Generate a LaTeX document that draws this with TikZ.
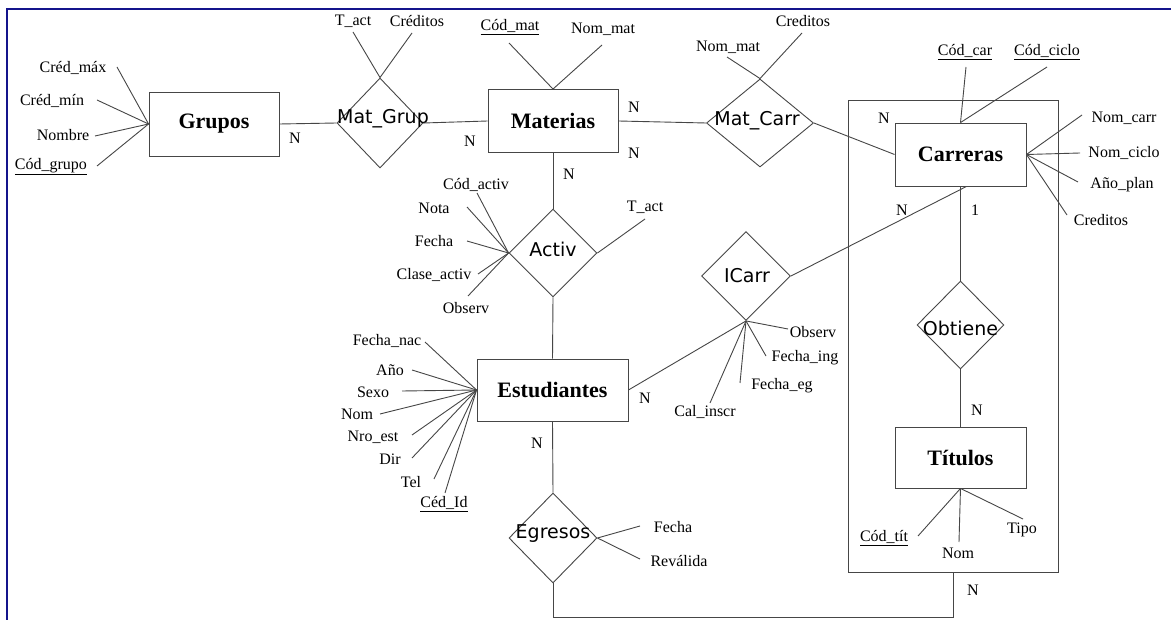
\documentclass[tikz,border=0pt]{standalone}
\usepackage{fontspec}
\setmainfont{Liberation Serif}
\newfontfamily\relfont{DejaVu Sans}
\usetikzlibrary{shapes.geometric}
\definecolor{framecol}{RGB}{20,20,140}
\definecolor{ink}{RGB}{70,70,70}
\begin{document}
\begin{tikzpicture}[x=1pt,y=-1pt,
  ent/.style={draw=ink, line width=0.9pt, inner sep=0pt, font=\bfseries\fontsize{22}{25}\selectfont},
  rel/.style={diamond, draw=ink, line width=0.9pt, inner sep=0pt},
  rtext/.style={font=\relfont\fontsize{19}{22}\selectfont, inner sep=0pt},
  att/.style={font=\fontsize{16}{18}\selectfont, inner sep=0pt},
  conn/.style={draw=ink, line width=0.9pt},
  frame/.style={draw=framecol, line width=2.5pt}]
\useasboundingbox (0,0) rectangle (1171,620);
\fill[white] (0,0) rectangle (1171,620);
\draw[frame] (7,620) -- (7,9) -- (1171,9);

% aggregation box
\node[draw=ink, line width=0.9pt, minimum width=210pt, minimum height=472pt, inner sep=0pt] (agg) at (953,336) {};

% ---------- Grupos
\node[ent, minimum width=130pt, minimum height=64pt] (gr) at (214,124) {Grupos};
\node[att] (gr1) at (73,68) {Créd\_máx};
\node[att] (gr2) at (52,101) {Créd\_mín};
\node[att] (gr3) at (63,135) {Nombre};
\node[att] (gr4) at (51,167) {\underline{Cód\_grupo}};
\coordinate (gr1s) at (117,67);
\coordinate (gr2s) at (97,100);
\coordinate (gr3s) at (95,136);
\coordinate (gr4s) at (97,166);
\foreach \c in {gr1s,gr2s,gr3s,gr4s} \draw[conn] (\c) -- (gr.west);

% ---------- Mat_Grup
\node[rel, minimum width=86pt, minimum height=90pt] (mg) at (380,123) {};
\node[rtext] (mgt) at (383,119) {Mat\_Grup};
\node[att] (mg1) at (353,21) {T\_act};
\node[att] (mg2) at (417,21) {Créditos};
\coordinate (mg1s) at (353,32);
\coordinate (mg2s) at (412,33);
\draw[conn] (mg1s) -- (mg.north);
\draw[conn] (mg2s) -- (mg.north);
\draw[conn] (gr.east) -- (mg.west);
\node[att] (n1) at (295,138) {N};
\node[att] (n2) at (470,141) {N};

% ---------- Materias
\node[ent, minimum width=130pt, minimum height=63pt] (ma) at (553,121) {Materias};
\draw[conn] (mg.east) -- (ma.west);
\node[att] (ma1) at (510,27) {\underline{Cód\_mat}};
\node[att] (ma2) at (603,29) {Nom\_mat};
\coordinate (ma1s) at (509,43);
\coordinate (ma2s) at (602,45);
\draw[conn] (ma1s) -- (ma.north);
\draw[conn] (ma2s) -- (ma.north);
\node[att] (n3) at (634,107) {N};
\node[att] (n4) at (634,153) {N};
\node[att] (n5) at (569,174) {N};

% ---------- Mat_Carr
\node[rel, minimum width=107pt, minimum height=88pt] (mc) at (760,123) {};
\node[rtext] (mct) at (757,121) {Mat\_Carr};
\draw[conn] (ma.east) -- (mc.west);
\node[att] (mc1) at (728,47) {Nom\_mat};
\node[att] (mc2) at (803,21) {Creditos};
\coordinate (mc1s) at (727,57);
\coordinate (mc2s) at (802,33);
\draw[conn] (mc1s) -- (mc.north);
\draw[conn] (mc2s) -- (mc.north);

% ---------- Carreras
\node[ent, minimum width=131pt, minimum height=63pt] (ca) at (960.5,154.5) {Carreras};
\draw[conn] (mc.east) -- (ca.west);
\node[att] (ca1) at (965,52) {\underline{Cód\_car}};
\node[att] (ca2) at (1047,52) {\underline{Cód\_ciclo}};
\coordinate (ca1s) at (966,67);
\coordinate (ca2s) at (1047,67);
\draw[conn] (ca1s) -- (ca.north);
\draw[conn] (ca2s) -- (ca.north);
\node[att] (ca3) at (1124,118) {Nom\_carr};
\node[att] (ca4) at (1124,153) {Nom\_ciclo};
\node[att] (ca5) at (1122,185) {Año\_plan};
\node[att] (ca6) at (1101,220) {Creditos};
\coordinate (ca3s) at (1082,115);
\coordinate (ca4s) at (1080,153);
\coordinate (ca5s) at (1078,182);
\coordinate (ca6s) at (1067,215);
\foreach \c in {ca3s,ca4s,ca5s,ca6s} \draw[conn] (\c) -- (ca.east);
\node[att] (n6) at (884,118) {N};
\node[att] (n7) at (902,210) {N};
\node[att] (n8) at (975,210) {1};

% ---------- Activ
\node[rel, minimum width=88pt, minimum height=88pt] (ac) at (553,253) {};
\node[rtext] (act) at (553,249) {Activ};
\draw[conn] (ma.south) -- (ac.north);
\node[att] (ac1) at (476,185) {Cód\_activ};
\node[att] (ac2) at (434,208) {Nota};
\node[att] (ac3) at (434,241) {Fecha};
\node[att] (ac4) at (434,275) {Clase\_activ};
\node[att] (ac5) at (466,308) {Observ};
\node[att] (ac6) at (645,207) {T\_act};
\coordinate (ac1s) at (477,193);
\coordinate (ac2s) at (467,207);
\coordinate (ac3s) at (467,241);
\coordinate (ac4s) at (478,274);
\coordinate (ac5s) at (468,296);
\coordinate (ac6s) at (645,219);
\foreach \c in {ac1s,ac2s,ac3s,ac4s,ac5s} \draw[conn] (\c) -- (ac.west);
\draw[conn] (ac6s) -- (ac.east);

% ---------- Estudiantes
\node[ent, minimum width=151pt, minimum height=62pt] (es) at (552.5,390) {Estudiantes};
\draw[conn] (ac.south) -- (es.north);
\node[att] (es1) at (387,341) {Fecha\_nac};
\node[att] (es2) at (390,370) {Año};
\node[att] (es3) at (373,392) {Sexo};
\node[att] (es4) at (357,414) {Nom};
\node[att] (es5) at (373,437) {Nro\_est};
\node[att] (es6) at (390,459) {Dir};
\node[att] (es7) at (411,482) {Tel};
\node[att] (es8) at (444,504) {\underline{Céd\_Id}};
\coordinate (es1s) at (425,342);
\coordinate (es2s) at (412,370);
\coordinate (es3s) at (402,391);
\coordinate (es4s) at (380,414);
\coordinate (es5s) at (412,435);
\coordinate (es6s) at (412,458);
\coordinate (es7s) at (434,479);
\coordinate (es8s) at (445,493);
\foreach \c in {es1s,es2s,es3s,es4s,es5s,es6s,es7s,es8s} \draw[conn] (\c) -- (es.west);

% ---------- ICarr
\node[rel, minimum width=89pt, minimum height=89pt] (ic) at (746,276) {};
\node[rtext] (ict) at (747,276) {ICarr};
\draw[conn] (ic.east) -- ([xshift=6pt]ca.south);
\draw[conn] (ic.south) -- (es.east);
\node[att] (ic1) at (813,332) {Observ};
\node[att] (ic2) at (805,358) {Fecha\_ing};
\node[att] (ic3) at (782,386) {Fecha\_eg};
\node[att] (ic4) at (705,412) {Cal\_inscr};
\coordinate (ic1s) at (788,329);
\coordinate (ic2s) at (766,356);
\coordinate (ic3s) at (740,383);
\coordinate (ic4s) at (710,403);
\foreach \c in {ic1s,ic2s,ic3s,ic4s} \draw[conn] (\c) -- (ic.south);
\node[att] (n9) at (645,398) {N};

% ---------- Obtiene
\node[rel, minimum width=87pt, minimum height=88pt] (ob) at (960.5,325) {};
\node[rtext] (obt) at (960.5,328) {Obtiene};
\draw[conn] (ca.south) -- (ob.north);
\node[att] (n11) at (977,410) {N};

% ---------- Titulos
\node[ent, minimum width=131pt, minimum height=61pt] (ti) at (960.5,457.5) {Títulos};
\draw[conn] (ob.south) -- (ti.north);
\node[att] (ti1) at (884,538) {\underline{Cód\_tít}};
\node[att] (ti2) at (958,553) {Nom};
\node[att] (ti3) at (1022,530) {Tipo};
\coordinate (ti1s) at (918,536);
\coordinate (ti2s) at (959,542);
\coordinate (ti3s) at (1023,519);
\foreach \c in {ti1s,ti2s,ti3s} \draw[conn] (\c) -- (ti.south);

% ---------- Egresos
\node[rel, minimum width=88pt, minimum height=90pt] (eg) at (553,538) {};
\node[rtext] (egt) at (553,534) {Egresos};
\draw[conn] (es.south) -- (eg.north);
\node[att] (eg1) at (673,527) {Fecha};
\node[att] (eg2) at (679,561) {Reválida};
\coordinate (eg1s) at (640,526);
\coordinate (eg2s) at (640,559);
\draw[conn] (eg1s) -- (eg.east);
\draw[conn] (eg2s) -- (eg.east);
\node[att] (n12) at (537,443) {N};
\draw[conn] (agg.south) -- ++(0,45) -| (eg.south);
\node[att] (n13) at (973,590) {N};
\end{tikzpicture}
\end{document}
